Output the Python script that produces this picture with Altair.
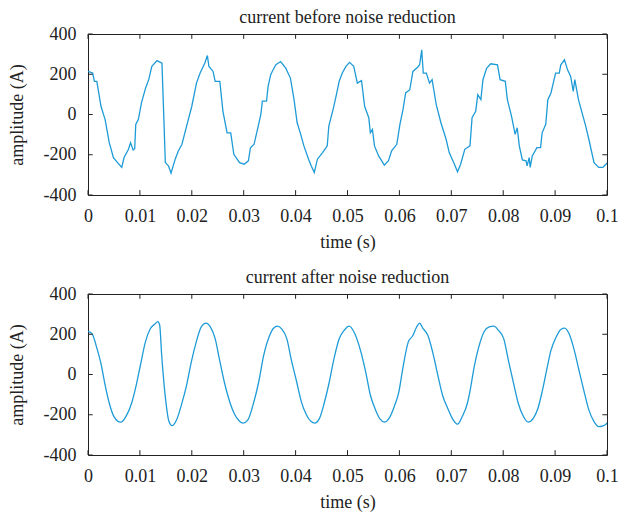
import altair as alt
import pandas as pd

# time in milliseconds, amplitude in A
t_before_ms = [0, 0.9, 1.24, 1.7, 2.5, 3.3, 4.1, 4.9, 5.7, 6.5, 6.95, 7.8, 8.2, 8.7, 9.0, 9.2, 9.7,
               10.3, 11.1, 11.7, 12.3, 13.3, 14.25, 14.6, 14.9, 15.5, 16.0, 16.8, 17.4, 18.1, 19.0,
               20.0, 20.9, 21.6, 22.2, 22.5, 23.0, 23.3, 24.1, 24.5, 25.4, 26.0, 26.8, 27.5, 28.1, 29.2,
               30.1, 30.9, 31.3, 32.0, 32.8, 33.3, 33.6, 34.4, 34.7, 35.2, 35.5, 36.2, 37.1, 38.1, 39.0, 39.7,
               40.3, 40.9, 41.6, 42.5, 43.0, 43.6, 44.2, 45.2, 46.1, 46.4, 47.3, 47.8, 48.4, 49.0, 49.7,
               50.4, 51.2, 51.9, 52.7, 53.3, 54.1, 54.4, 54.8, 55.2, 56.0, 57.1, 57.9, 58.5, 59.5,
               60.1, 60.7, 61.2, 62.0, 62.6, 63.5, 63.9, 64.3, 64.6, 65.2, 65.8, 66.3, 67.1, 68.0, 69.0, 69.6,
               70.6, 71.2, 71.8, 72.6, 73.6, 74.0, 74.7, 75.1, 75.7, 76.1, 76.8, 77.6, 78.9, 79.4,
               80.4, 80.8, 81.6, 82.3, 82.7, 83.1, 83.7, 84.4, 84.6, 85.0, 85.2, 85.6, 86.5, 87.2, 87.5, 88.2, 88.6, 89.2,
               90.1, 90.8, 91.1, 91.8, 92.4, 93.0, 93.5, 93.8, 94.5, 95.9, 96.5, 97.5, 98.4, 99.2, 99.8, 100]
a_before = [214, 206, 165, 165, 41, -25, -140, -214, -239, -263, -214, -173, -140, -176, -170, -49, -25,
            58, 132, 173, 239, 268, 255, -8, -239, -255, -291, -222, -181, -148, -58,
            41, 156, 206, 239, 255, 293, 239, 214, 165, 165, 16, -91, -91, -198, -239,
            -247, -230, -165, -148, -58, 0, 66, 66, 140, 198, 214, 247, 263, 230, 181, 74,
            -41, -91, -156, -222, -255, -288, -222, -189, -156, -58, 33, 91, 165, 206, 239,
            259, 239, 156, 169, 41, -16, -91, -74, -156, -206, -252, -230, -181, -148,
            -49, 25, 107, 123, 214, 235, 247, 321, 206, 206, 156, 173, 49, -41, -123, -189,
            -247, -285, -247, -173, -156, -16, 16, 99, 74, 173, 230, 252, 247, 173,
            165, 74, -8, -99, -66, -156, -226, -230, -255, -214, -263, -206, -165, -165, -91, -49, 74, 107,
            206, 206, 247, 272, 222, 189, 115, 173, 74, -58, -123, -239, -263, -263, -247, -240]

t_after_ms = [0, 0.8, 1.56, 2.5, 3.3, 4.1, 5.0, 6.3, 7.3, 8.4, 9.15,
              10.1, 11.05, 12.0, 12.95, 13.45, 13.8, 14.2, 15.0, 15.6, 16.2, 17.05, 18.0, 19.0, 19.9,
              20.85, 21.8, 22.75, 23.6, 24.5, 25.3, 26.25, 27.2, 28.15, 29.1, 29.9,
              30.8, 31.8, 32.9, 33.85, 35.0, 35.75, 36.5, 37.3, 38.3, 39.2,
              40.2, 41.1, 42.1, 43.0, 43.65, 44.6, 45.5, 46.5, 47.4, 48.4, 49.35,
              50.3, 51.25, 52.5, 53.5, 54.4, 55.4, 56.3, 57.1, 58.0, 59.0, 59.9,
              60.7, 61.7, 62.6, 63.3, 63.9, 64.5, 65.5, 66.4, 67.4, 68.3, 69.3,
              70.2, 71.2, 72.1, 73.1, 73.7, 74.4, 75.3, 76.3, 77.2, 78.2, 79.1,
              80.1, 81.0, 82.0, 82.9, 83.9, 84.8, 85.8, 86.7, 87.5, 88.3, 89.2,
              90.2, 91.1, 91.8, 92.7, 93.7, 94.6, 95.6, 96.5, 97.5, 98.4, 99.2, 99.8, 100]
a_after = [214, 202, 145, 54, -53, -143, -209, -237, -209, -143, -69,
           46, 161, 227, 252, 263, 247, 95, -135, -234, -254, -226, -151, -53, 62,
           161, 235, 255, 235, 178, 79, -36, -127, -193, -230, -242,
           -226, -151, -36, 95, 194, 230, 240, 227, 178, 70,
           -36, -135, -201, -234, -242, -218, -143, -36, 79, 178, 219,
           240, 211, 120, 13, -102, -176, -222, -237, -218, -160, -86,
           37, 161, 194, 235, 255, 230, 194, 112, -3, -102, -168,
           -218, -247, -209, -143, -69, 37, 137, 211, 235, 240, 219,
           178, 70, -44, -143, -209, -237, -218, -168, -86, 13, 120,
           186, 224, 230, 202, 120, 21, -86, -176, -234, -259, -255, -247, -240]

x_ticks = [0, 0.01, 0.02, 0.03, 0.04, 0.05, 0.06, 0.07, 0.08, 0.09, 0.1]
y_ticks = [-400, -200, 0, 200, 400]

FONT = "Liberation Serif"
FS = 18
LINE_COLOR = "#1E9BD7"
AXIS_COLOR = "#222222"

x_scale = alt.Scale(domain=[0, 0.1], nice=False, zero=False)
y_scale = alt.Scale(domain=[-400, 400], nice=False)

x_axis = alt.Axis(values=x_ticks, format="~g", title="time (s)", grid=False, domain=False,
                  ticks=False, tickSize=0, labelPadding=12, titlePadding=8,
                  labelFont=FONT, titleFont=FONT, labelFontSize=FS, titleFontSize=FS,
                  titleFontWeight="normal", labelColor=AXIS_COLOR, titleColor=AXIS_COLOR,
                  labelFlush=False, labelOverlap=False)
y_axis = alt.Axis(values=y_ticks, labelExpr="'' + datum.value", title="amplitude (A)", grid=False,
                  domain=False, ticks=False, tickSize=0, labelPadding=12, titlePadding=16.5,
                  labelFont=FONT, titleFont=FONT, labelFontSize=FS, titleFontSize=FS,
                  titleFontWeight="normal", labelColor=AXIS_COLOR, titleColor=AXIS_COLOR,
                  labelFlush=False, labelOverlap=False)

tick_len_y = 24.0       # amplitude units
tick_len_x = 0.0009     # seconds

xt_rows = []
for xv in x_ticks:
    xt_rows.append({"xv": xv, "xv2": xv, "yv": -400, "yv2": -400 + tick_len_y})
    xt_rows.append({"xv": xv, "xv2": xv, "yv": 400, "yv2": 400 - tick_len_y})
for yv in y_ticks:
    xt_rows.append({"xv": 0, "xv2": tick_len_x, "yv": yv, "yv2": yv})
    xt_rows.append({"xv": 0.1, "xv2": 0.1 - tick_len_x, "yv": yv, "yv2": yv})
ticks_df = pd.DataFrame(xt_rows)


def panel(t_ms, amps, title, interp):
    df = pd.DataFrame({"xv": [t / 1000.0 for t in t_ms], "yv": amps})
    line = alt.Chart(df).mark_line(color=LINE_COLOR, strokeWidth=1.3, clip=True,
                                   interpolate=interp).encode(
        x=alt.X("xv:Q", scale=x_scale, axis=x_axis),
        y=alt.Y("yv:Q", scale=y_scale, axis=y_axis),
    )
    ticks = alt.Chart(ticks_df).mark_rule(color=AXIS_COLOR, strokeWidth=1).encode(
        x=alt.X("xv:Q", scale=x_scale, axis=x_axis),
        x2="xv2:Q",
        y=alt.Y("yv:Q", scale=y_scale, axis=y_axis),
        y2="yv2:Q",
    )
    return alt.layer(line, ticks).properties(
        width=519, height=161,
        title=alt.Title(title, font=FONT, fontSize=FS, fontWeight="normal",
                        color=AXIS_COLOR, offset=-2, anchor="middle"),
    )


top = panel(t_before_ms, a_before, "current before noise reduction", "linear")
bottom = panel(t_after_ms, a_after, "current after noise reduction", "monotone")

chart = alt.vconcat(top, bottom, spacing=16).configure(
    padding={"left": 0, "top": 0, "right": 0, "bottom": 0}
).configure_view(stroke=AXIS_COLOR, strokeWidth=1)

chart.save("out.html", embed_options={"renderer": "svg", "actions": False})
